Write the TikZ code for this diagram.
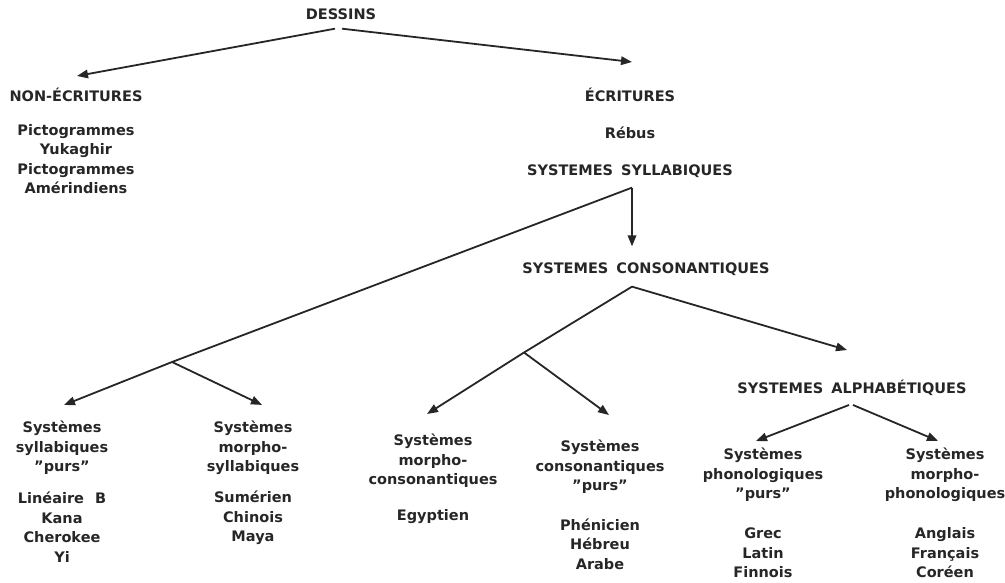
\documentclass[tikz,border=0pt]{standalone}
\usepackage{fontspec}
\setmainfont{DejaVu Sans}
\usepackage{tikz}
\usetikzlibrary{arrows.meta}

\begin{document}
\begin{tikzpicture}[
  x=1pt, y=-1pt,
  txt/.style={font=\fontsize{14.5}{19.5}\selectfont\bfseries, align=center, inner sep=0pt, text=black!85},
  arrow/.style={-{Triangle[length=11pt, width=8.5pt]}, line width=1.8pt, black!85},
  branch/.style={line width=1.8pt, black!85},
]
\useasboundingbox (0,0) rectangle (1005,582);

% Top level
\node[txt] (dessins) at (341,14) {DESSINS};
\node[txt] (nonecr) at (76,95) {NON-ÉCRITURES};
\node[txt] (ecr) at (630,95) {ÉCRITURES};
\node[txt] (nonecrex) at (76,159) {Pictogrammes\\Yukaghir\\Pictogrammes\\Amérindiens};

% Writing systems
\node[txt] (rebus) at (630,133) {Rébus};
\node[txt] (syll) at (630,171) {SYSTEMES\hspace{3pt} SYLLABIQUES};
\node[txt] (cons) at (646,269) {SYSTEMES\hspace{3pt} CONSONANTIQUES};
\node[txt] (alpha) at (852,388) {SYSTEMES\hspace{3pt} ALPHABÉTIQUES};

% Leaves
\node[txt] (sylpurs) at (62,448) {Systèmes\\syllabiques\\\symbol{34}purs\symbol{34}};
\node[txt] (morphsyl) at (253,448) {Systèmes\\morpho-\\syllabiques};
\node[txt] (morphcons) at (433,461) {Systèmes\\morpho-\\consonantiques};
\node[txt] (conspurs) at (600,467) {Systèmes\\consonantiques\\\symbol{34}purs\symbol{34}};
\node[txt] (phonpurs) at (763,475) {Systèmes\\phonologiques\\\symbol{34}purs\symbol{34}};
\node[txt] (morphphon) at (945,475) {Systèmes\\morpho-\\phonologiques};

% Examples
\node[txt] (sylpursex) at (62,527) {Linéaire\hspace{6pt} B\\Kana\\Cherokee\\Yi};
\node[txt] (morphsylex) at (253,518) {Sumérien\\Chinois\\Maya};
\node[txt] (morphconsex) at (433,517) {Egyptien};
\node[txt] (conspursex) at (600,544) {Phénicien\\Hébreu\\Arabe};
\node[txt] (phonpursex) at (763,553) {Grec\\Latin\\Finnois};
\node[txt] (morphphonex) at (945,553) {Anglais\\Français\\Coréen};

% Forks
\coordinate (syllfork) at (172,362);
\coordinate (consfork) at (524,352.5);

% Arrows
\draw[arrow] ([xshift=-6pt,yshift=-9pt]dessins.south) -- ([xshift=1pt,yshift=12pt]nonecr.north);
\draw[arrow] ([xshift=1pt,yshift=-9pt]dessins.south) -- ([xshift=2pt,yshift=26pt]ecr.north);
\draw[arrow] ([xshift=2pt,yshift=-10pt]syll.south) -- ([xshift=2pt,yshift=16pt]cons.north -| syll.south);
\draw[branch] ([xshift=2pt,yshift=-10pt]syll.south) -- (syllfork);
\draw[arrow] (syllfork) -- ([xshift=2pt,yshift=16pt]sylpurs.north);
\draw[arrow] (syllfork) -- ([xshift=9pt,yshift=16pt]morphsyl.north);
\draw[branch] ([xshift=-14pt,yshift=-11pt]cons.south) -- (consfork);
\draw[arrow] (consfork) -- ([xshift=-6pt,yshift=20pt]morphcons.north);
\draw[arrow] (consfork) -- ([xshift=9pt,yshift=25pt]conspurs.north);
\draw[arrow] ([xshift=-14pt,yshift=-11pt]cons.south) -- ([xshift=-5pt,yshift=30pt]alpha.north);
\draw[arrow] ([xshift=-3pt,yshift=-9pt]alpha.south) -- ([xshift=-7pt,yshift=7pt]phonpurs.north);
\draw[arrow] ([xshift=1pt,yshift=-9pt]alpha.south) -- ([xshift=-7pt,yshift=7pt]morphphon.north);

\end{tikzpicture}
\end{document}
